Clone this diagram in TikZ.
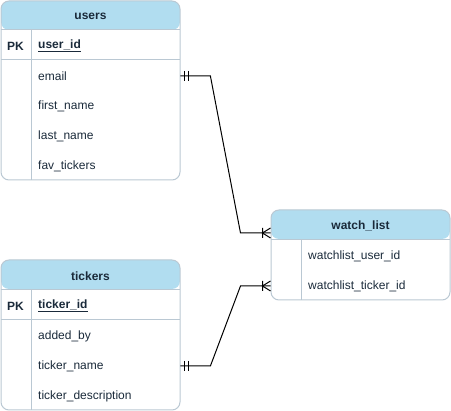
\documentclass[tikz,border=0pt]{standalone}
\usepackage{fontspec}
\setmainfont{Liberation Sans}
\usetikzlibrary{positioning}
\definecolor{hdrblue}{HTML}{B1DDF0}
\definecolor{tblline}{HTML}{BAC8D3}
\definecolor{txtdark}{HTML}{1A2A3A}
\tikzset{
  tbl/.style={draw=tblline, line width=1pt, rounded corners=8pt, minimum width=179pt, inner sep=0pt,
    path picture={\fill[hdrblue] (path picture bounding box.north west) rectangle ([yshift=-29pt]path picture bounding box.north east);}},
  sep/.style={draw=tblline, line width=1pt},
  title/.style={text=txtdark, font=\fontsize{12}{14}\selectfont\bfseries, inner sep=0pt, yshift=-1pt},
  pk/.style={title},
  fieldrow/.style={anchor=west, minimum height=30pt, text width=135pt, inner xsep=7pt, inner ysep=0pt,
    align=left, text=txtdark, font=\fontsize{12}{14}\selectfont, yshift=-1pt},
  rel/.style={draw=black, line width=1pt},
  pics/onebars/.style={code={\draw[rel] (4,-5) -- (4,5) (8,-5) -- (8,5);}},
  pics/crowfoot/.style={code={\draw[rel] (-8,-5) -- (-8,5) (0,-5) -- (-8,0) -- (0,5);}}
}
\begin{document}
\begin{tikzpicture}[x=1pt, y=-1pt]
  \useasboundingbox (0,0) rectangle (451,411);
  % users
  \node[tbl, minimum height=179pt] (users) at (90.5,90.5) {};
  \node[title] (users-t) at (90.5,15.5) {users};
  \draw[sep] (1,30) -- (180,30) (1,60) -- (180,60) (31,30) -- (31,180);
  \node[pk] (u-pk) at (15.5,45) {PK};
  \node[fieldrow, font=\fontsize{12}{14}\selectfont\bfseries] (u-id) at (31,45) {\underline{user\_id}};
  \node[fieldrow] (u-email) at (31,75) {email};
  \node[fieldrow] (u-first) at (31,105) {first\_name};
  \node[fieldrow] (u-last) at (31,135) {last\_name};
  \node[fieldrow] (u-fav) at (31,165) {fav\_tickers};
  % tickers
  \node[tbl, minimum height=150pt] (tickers) at (90.5,335) {};
  \node[title] (tickers-t) at (90.5,275) {tickers};
  \draw[sep] (1,290) -- (180,290) (1,320) -- (180,320) (31,290) -- (31,410);
  \node[pk] (t-pk) at (15.5,305) {PK};
  \node[fieldrow, font=\fontsize{12}{14}\selectfont\bfseries] (t-id) at (31,305) {\underline{ticker\_id}};
  \node[fieldrow] (t-added) at (31,335) {added\_by};
  \node[fieldrow] (t-name) at (31,365) {ticker\_name};
  \node[fieldrow] (t-desc) at (31,395) {ticker\_description};
  % watch_list
  \node[tbl, minimum height=90pt] (watch) at (360.5,255) {};
  \node[title] (watch-t) at (360.5,225) {watch\_list};
  \draw[sep] (271,240) -- (450,240) (301,240) -- (301,300);
  \node[fieldrow] (w-user) at (301,255) {watchlist\_user\_id};
  \node[fieldrow] (w-tick) at (301,285) {watchlist\_ticker\_id};
  % relations
  \draw[rel] (u-email.east) -- ++(30,0) -- ([xshift=-30pt,yshift=22pt]watch.west) -- ([yshift=22pt]watch.west);
  \draw[rel] (t-name.east) -- ++(30,0) -- ([xshift=-30pt]watch.west |- w-tick) -- (watch.west |- w-tick);
  \pic at (u-email.east) {onebars};
  \pic at (t-name.east) {onebars};
  \pic at ([yshift=22pt]watch.west) {crowfoot};
  \pic at (watch.west |- w-tick) {crowfoot};
\end{tikzpicture}
\end{document}
